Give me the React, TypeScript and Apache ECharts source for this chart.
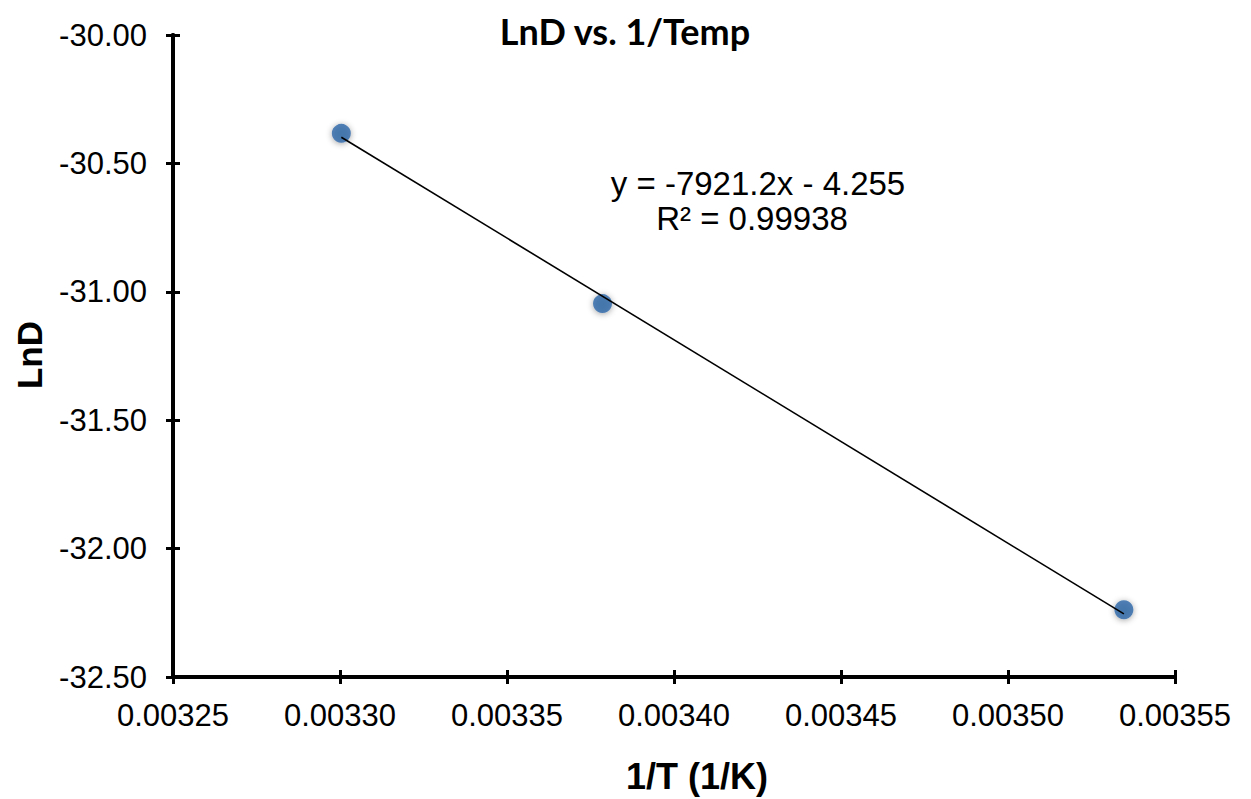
import React, { useEffect, useRef } from "react";
import * as echarts from "echarts";

const invTemp = [0.0033004, 0.0033786, 0.0035347];
const lnD = [-30.383, -31.046, -32.238];
const trendX = [0.0033004, 0.0035347];
const trendY = [-30.398, -32.254];
const xTicks = ["0.00325", "0.00330", "0.00335", "0.00340", "0.00345", "0.00350", "0.00355"];
const yTicks = ["-30.00", "-30.50", "-31.00", "-31.50", "-32.00", "-32.50"];
const titleText = "LnD vs. 1/Temp";
const xName = "1/T (1/K)";
const yName = "LnD";
const eqLines = ["y = -7921.2x - 4.255", "R² = 0.99938"];

export default function App() {
  const ref = useRef<HTMLDivElement>(null);
  useEffect(() => {
    const chart = echarts.init(ref.current!, null, { renderer: "svg" });
    const axisFont = { fontFamily: "Liberation Sans, Arial, sans-serif", fontSize: 31, color: "#000" };
    const xBase = {
      type: "value",
      min: 0.00325,
      max: 0.00355,
      interval: 0.00005,
      splitLine: { show: false },
      axisLine: { show: true, onZero: false, lineStyle: { color: "#000", width: 4 } },
    };
    const yBase = {
      type: "value",
      min: -32.5,
      max: -30,
      interval: 0.5,
      splitLine: { show: false },
      axisLine: { show: true, onZero: false, lineStyle: { color: "#000", width: 4 } },
    };
    chart.setOption({
      animation: false,
      backgroundColor: "#fff",
      grid: { left: 173, right: 76, top: 35, bottom: 122, containLabel: false },
      title: {
        text: titleText,
        left: 620,
        top: 8,
        textAlign: "center",
        textStyle: { fontFamily: "Lato, Open Sans, sans-serif", fontWeight: "bold", fontSize: 36, color: "#000" },
      },
      xAxis: [
        {
          ...xBase,
          position: "bottom",
          axisTick: { show: true, inside: false, length: 7, lineStyle: { color: "#000", width: 3 } },
          axisLabel: {
            ...axisFont,
            margin: 23,
            formatter: (v: number) => xTicks[Math.round((v - 0.00325) / 0.00005)] ?? "",
          },
        },
        {
          ...xBase,
          position: "bottom",
          offset: 0,
          axisTick: { show: true, inside: true, length: 7, lineStyle: { color: "#000", width: 3 } },
          axisLabel: { show: false },
        },
      ],
      yAxis: [
        {
          ...yBase,
          position: "left",
          axisTick: { show: true, inside: false, length: 7, lineStyle: { color: "#000", width: 3 } },
          axisLabel: {
            ...axisFont,
            margin: 26,
            formatter: (v: number) => yTicks[Math.round((-30 - v) / 0.5)] ?? "",
          },
        },
        {
          ...yBase,
          position: "left",
          offset: 0,
          axisTick: { show: true, inside: true, length: 7, lineStyle: { color: "#000", width: 3 } },
          axisLabel: { show: false },
        },
      ],
      graphic: [
        {
          type: "text",
          x: 697,
          y: 776,
          style: {
            text: xName,
            fontFamily: "Liberation Sans, Arial, sans-serif",
            fontWeight: "bold",
            fontSize: 36,
            fill: "#000",
            align: "center",
            verticalAlign: "middle",
          },
        },
        {
          type: "text",
          x: 29,
          y: 355,
          rotation: Math.PI / 2,
          style: {
            text: yName,
            fontFamily: "Liberation Sans, Arial, sans-serif",
            fontWeight: "bold",
            fontSize: 35,
            fill: "#000",
            align: "center",
            verticalAlign: "middle",
          },
        },
        {
          type: "text",
          x: 758,
          y: 183,
          style: {
            text: eqLines[0],
            fontFamily: "Liberation Sans, Arial, sans-serif",
            fontSize: 33,
            fill: "#000",
            align: "center",
            verticalAlign: "middle",
          },
        },
        {
          type: "text",
          x: 752,
          y: 218,
          style: {
            text: eqLines[1],
            fontFamily: "Liberation Sans, Arial, sans-serif",
            fontSize: 33,
            fill: "#000",
            align: "center",
            verticalAlign: "middle",
          },
        },
      ],
      series: [
        {
          type: "line",
          xAxisIndex: 0,
          yAxisIndex: 0,
          data: trendX.map((x, i) => [x, trendY[i]]),
          showSymbol: false,
          symbol: "none",
          lineStyle: { color: "#000", width: 1.6 },
          z: 3,
        },
        {
          type: "scatter",
          xAxisIndex: 0,
          yAxisIndex: 0,
          data: invTemp.map((x, i) => [x, lnD[i]]),
          symbol: "circle",
          symbolSize: 19,
          itemStyle: {
            color: "#2d67a6",
            shadowBlur: 6,
            shadowColor: "rgba(0,0,0,0.45)",
            shadowOffsetY: 1,
          },
          z: 2,
        },
      ],
    });
    return () => chart.dispose();
  }, []);
  return <div ref={ref} style={{ width: 1251, height: 799, position: "absolute", left: 0, top: 0 }} />;
}
